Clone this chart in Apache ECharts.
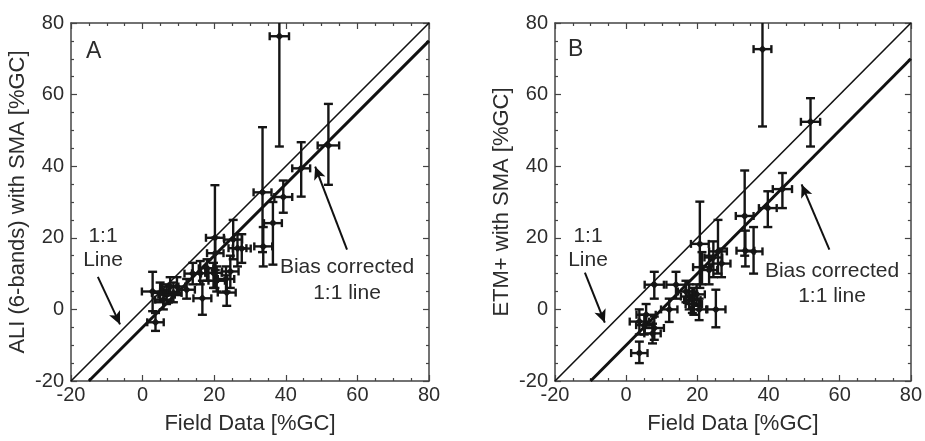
<!DOCTYPE html>
<html>
<head>
<meta charset="utf-8">
<script src="https://cdn.jsdelivr.net/npm/echarts@6/dist/echarts.min.js"></script>
<style>html,body{margin:0;padding:0;background:#fff}#c{width:925px;height:441px}</style>
</head>
<body>
<div id="c"></div>
<script>
// Panel A: ALI (6-bands) with SMA vs field data
const xA    = [38.2,51.9,44.3,39.3,33.5,36.4,33.7,20.2,25.3,26.5,20.3,24.5,16.1,18.0,19.8,20.7,23.5,16.7,14.0,12.3,9.6,2.8,4.9,6.7,8.6,5.8,7.7,3.6,27.7,23.3];
const yA    = [76.3,45.8,39.4,31.4,32.7,24.1,17.6,20.0,19.5,17.1,15.7,10.6,10.1,11.5,10.2,8.0,4.7,3.1,10.0,5.5,6.4,5.0,4.6,4.1,4.6,2.7,6.4,-3.6,17.0,8.5];
const xErrA = [2.7,3.0,2.5,2.5,2.5,2.5,2.5,2.5,2.5,2.5,2.3,2.3,2.3,2.3,2.3,2.3,2.5,2.5,2.3,2.3,2.3,3.0,2.3,2.3,2.3,2.3,2.3,2.3,2.5,2.3];
const yLoA  = [45.5,34.8,31.5,27.0,16.0,12.5,12.0,6.0,14.0,12.0,11.0,6.0,7.0,8.0,6.0,5.0,1.0,-1.5,7.0,3.0,4.0,-0.5,2.0,1.5,2.0,0.0,4.0,-6.0,13.0,5.0];
const yHiA  = [90,57.4,46.7,36.0,50.9,30.0,23.0,34.7,25.0,21.0,20.0,15.0,13.5,14.0,13.0,12.0,9.5,8.0,13.0,8.5,9.0,10.5,7.5,7.0,7.5,5.5,9.0,-1.0,21.0,12.0];

// Panel B: ETM+ with SMA vs field data
const xB    = [38.3,51.8,43.9,39.8,33.3,33.5,35.8,20.7,25.8,24.5,26.8,21.3,23.3,7.9,14.0,17.7,18.6,19.8,19.0,20.5,25.2,12.1,3.7,5.6,7.9,3.7,5.1,7.4,16.8];
const yB    = [72.7,52.4,33.6,28.3,26.1,16.4,16.2,18.3,16.2,14.5,12.8,11.8,11.0,6.9,6.9,3.6,2.6,4.2,1.5,0.0,0.0,0.0,-3.4,-1.5,-5.2,-12.2,-4.4,-6.7,5.0];
const xErrB = [2.5,2.7,2.7,2.5,2.5,2.5,2.5,2.5,2.5,2.5,2.5,2.5,2.3,2.7,2.7,2.3,2.3,2.3,2.3,2.3,2.7,2.3,2.7,2.7,2.7,2.3,2.3,2.3,2.3];
const yLoB  = [51.1,45.5,28.3,23.0,15.0,12.0,10.0,6.0,10.0,9.0,9.0,7.0,7.0,3.0,3.0,0.0,-1.0,1.0,-1.5,-3.0,-5.0,-3.5,-7.0,-4.5,-8.5,-15.0,-7.0,-9.5,2.0];
const yHiB  = [90,59.0,38.1,33.0,38.8,22.0,23.0,30.1,25.0,19.0,17.0,16.0,15.0,10.5,10.5,7.0,6.0,7.0,5.0,3.0,5.5,3.0,0.0,1.5,-2.0,-9.0,-1.5,-4.0,8.0];

// Reference lines
const oneToOne   = [[-20,-20],[80,80]];
const biasLineA  = [[-15,-20],[80,75]];
const biasLineB  = [[-10,-20],[80,70]];

// Annotation arrows (data coordinates)
const arrowA1 = [[-12.5,9.1],[-6.3,-4.2]];
const arrowA2 = [[57.1,16.7],[48.2,39.9]];
const arrowB1 = [[-11.6,10.3],[-6.0,-3.7]];
const arrowB2 = [[57.1,16.7],[49.3,34.9]];

const axMin = -20, axMax = 80, axInterval = 20;

function pack(x,y,xe,lo,hi){ return x.map((v,i)=>[v,y[i],xe[i],lo[i],hi[i]]); }

function renderErr(params, api){
  const x=api.value(0), y=api.value(1), xe=api.value(2), lo=api.value(3), hi=api.value(4);
  const c=api.coord([x,y]), l=api.coord([x-xe,y]), r=api.coord([x+xe,y]);
  const b=api.coord([x,lo]), t=api.coord([x,hi]);
  const st={stroke:'#151515', lineWidth:2.4};
  const cw=4.5, ch=4;
  const seg=(x1,y1,x2,y2)=>({type:'line',shape:{x1,y1,x2,y2},style:st});
  return {type:'group', children:[
    seg(b[0],b[1],t[0],t[1]),
    seg(b[0]-cw,b[1],b[0]+cw,b[1]),
    seg(t[0]-cw,t[1],t[0]+cw,t[1]),
    seg(l[0],l[1],r[0],r[1]),
    seg(l[0],l[1]-ch,l[0],l[1]+ch),
    seg(r[0],r[1]-ch,r[0],r[1]+ch),
    {type:'polygon',shape:{points:[[c[0],c[1]-4],[c[0]+4,c[1]],[c[0],c[1]+4],[c[0]-4,c[1]]]},style:{fill:'#151515'}}
  ]};
}

const FONT='Liberation Sans, Arial, sans-serif';
const TXT='#2c2c2c';

function axesFor(gi, xname, yname){
  const tick={show:true,inside:true,length:6,lineStyle:{color:'#444',width:1.2}};
  const minor={show:true,splitNumber:4,length:3,lineStyle:{color:'#444',width:1.2}};
  const line={show:true,onZero:false,lineStyle:{color:'#444',width:1.5}};
  const base={type:'value',min:axMin,max:axMax,interval:axInterval,gridIndex:gi,splitLine:{show:false},axisLine:line,axisTick:tick,minorTick:minor};
  return {
    x:[
      Object.assign({},base,{position:'bottom',name:xname,nameLocation:'middle',nameGap:32,
        nameTextStyle:{fontFamily:FONT,fontSize:22,color:TXT},
        axisLabel:{fontFamily:FONT,fontSize:20,color:TXT,margin:4}}),
      Object.assign({},base,{position:'top',axisLabel:{show:false}})
    ],
    y:[
      Object.assign({},base,{position:'left',name:yname,nameLocation:'middle',nameGap:42,
        nameTextStyle:{fontFamily:FONT,fontSize:22,color:TXT},
        axisLabel:{fontFamily:FONT,fontSize:20,color:TXT,margin:7}}),
      Object.assign({},base,{position:'right',axisLabel:{show:false}})
    ]
  };
}

const aA=axesFor(0,'Field Data [%GC]','ALI (6-bands) with SMA [%GC]');
const aB=axesFor(1,'Field Data [%GC]','ETM+ with SMA [%GC]');

function lineSeries(data,xi,yi,w){
  return {type:'line',data:data,xAxisIndex:xi,yAxisIndex:yi,symbol:'none',silent:true,
    lineStyle:{color:'#111',width:w},clip:true,z:3};
}
function arrowSeries(arrs,xi,yi){
  return {type:'line',data:[],xAxisIndex:xi,yAxisIndex:yi,silent:true,
    markLine:{silent:true,symbol:['none','arrow'],symbolSize:[9,13],label:{show:false},
      lineStyle:{color:'#111',width:2,type:'solid'},
      data:arrs.map(a=>[{coord:a[0]},{coord:a[1]}])}};
}

const chart=echarts.init(document.getElementById('c'));
chart.setOption({
  animation:false,
  backgroundColor:'#fff',
  grid:[
    {left:71,top:23,width:358,height:358},
    {left:555,top:23,width:358,height:358}
  ],
  xAxis:[aA.x[0],aA.x[1],aB.x[0],aB.x[1]],
  yAxis:[aA.y[0],aA.y[1],aB.y[0],aB.y[1]],
  graphic:[
    {type:'text',left:86,top:40,style:{text:'A',font:'23px '+FONT,fill:TXT}},
    {type:'text',left:568,top:38,style:{text:'B',font:'23px '+FONT,fill:TXT}},
    {type:'text',x:103,y:248,style:{text:'1:1\nLine',font:'21px '+FONT,fill:TXT,align:'center',verticalAlign:'middle',lineHeight:24}},
    {type:'text',x:347,y:280,style:{text:'Bias corrected\n1:1 line',font:'21px '+FONT,fill:TXT,align:'center',verticalAlign:'middle',lineHeight:26}},
    {type:'text',x:588,y:248,style:{text:'1:1\nLine',font:'21px '+FONT,fill:TXT,align:'center',verticalAlign:'middle',lineHeight:24}},
    {type:'text',x:832,y:284,style:{text:'Bias corrected\n1:1 line',font:'21px '+FONT,fill:TXT,align:'center',verticalAlign:'middle',lineHeight:25}}
  ],
  series:[
    lineSeries(oneToOne,0,0,1.6),
    lineSeries(biasLineA,0,0,3),
    {type:'custom',xAxisIndex:0,yAxisIndex:0,renderItem:renderErr,data:pack(xA,yA,xErrA,yLoA,yHiA),clip:true,z:4,
      encode:{x:0,y:1}},
    arrowSeries([arrowA1,arrowA2],0,0),
    lineSeries(oneToOne,2,2,1.6),
    lineSeries(biasLineB,2,2,3),
    {type:'custom',xAxisIndex:2,yAxisIndex:2,renderItem:renderErr,data:pack(xB,yB,xErrB,yLoB,yHiB),clip:true,z:4,
      encode:{x:0,y:1}},
    arrowSeries([arrowB1,arrowB2],2,2)
  ]
});
</script>
</body>
</html>
